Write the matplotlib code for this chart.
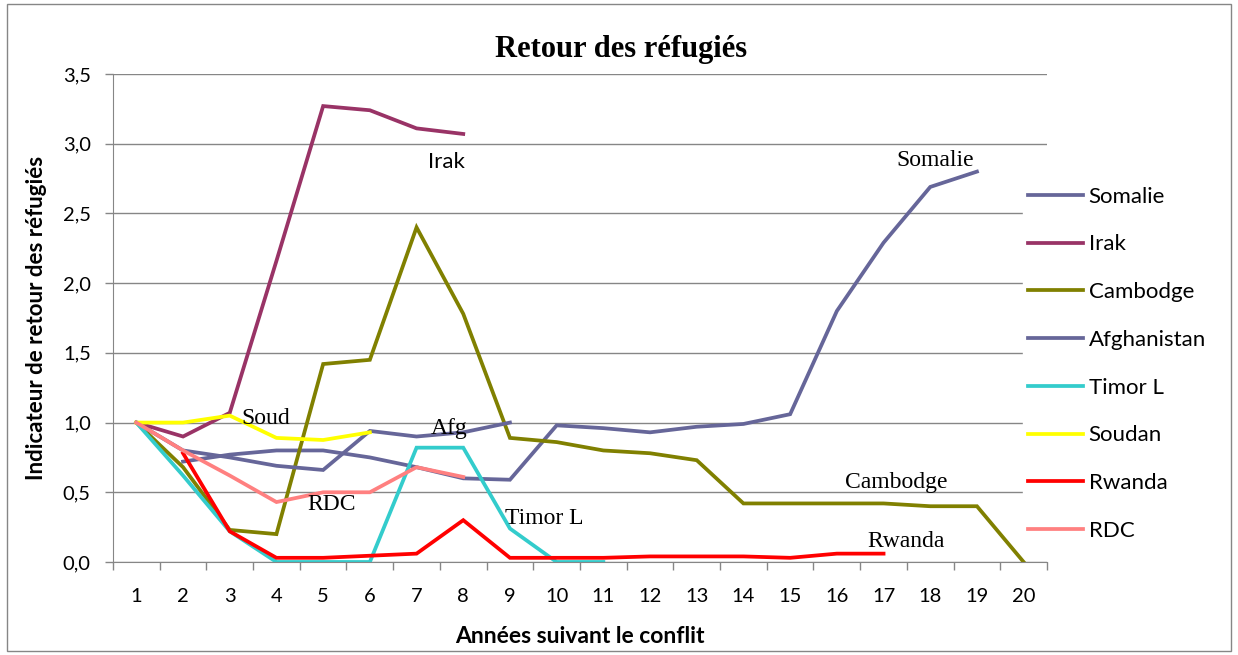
import numpy as np
import matplotlib
matplotlib.use('Agg')
import matplotlib.pyplot as plt
from matplotlib.patches import Rectangle

nan = np.nan

# annees suivant le conflit
years = list(range(1, 21))

somalie = [nan, 0.72, 0.77, 0.80, 0.80, 0.75, 0.68, 0.60, 0.59, 0.98,
           0.96, 0.93, 0.97, 0.99, 1.06, 1.80, 2.29, 2.69, 2.80]
irak = [1.0, 0.90, 1.07, 2.16, 3.27, 3.24, 3.11, 3.07]
cambodge = [1.0, 0.68, 0.23, 0.20, 1.42, 1.45, 2.40, 1.78, 0.89, 0.86,
            0.80, 0.78, 0.73, 0.42, 0.42, 0.42, 0.42, 0.40, 0.40, 0.0]
afghanistan = [1.0, 0.80, 0.75, 0.69, 0.66, 0.94, 0.90, 0.93, 1.00]
timor = [1.0, 0.62, 0.22, 0.0, 0.0, 0.0, 0.82, 0.82, 0.24, 0.0, 0.0]
soudan = [1.0, 1.0, 1.05, 0.89, 0.875, 0.93]
rwanda = [nan, 0.78, 0.22, 0.03, 0.03, 0.045, 0.06, 0.30, 0.03, 0.03,
          0.03, 0.04, 0.04, 0.04, 0.03, 0.06, 0.06]
rdc = [1.0, 0.80, 0.62, 0.43, 0.50, 0.50, 0.68, 0.61]

series = [
    ('Somalie', somalie, '#666699'),
    ('Irak', irak, '#993366'),
    ('Cambodge', cambodge, '#808000'),
    ('Afghanistan', afghanistan, '#666699'),
    ('Timor L', timor, '#33CCCC'),
    ('Soudan', soudan, '#FFFF00'),
    ('Rwanda', rwanda, '#FF0000'),
    ('RDC', rdc, '#FF8080'),
]

# etiquettes posees sur le graphique (texte, x, y)
notes_serif = [('Soud', 3.78, 1.03), ('Afg', 7.69, 0.96), ('RDC', 5.19, 0.41),
               ('Timor L', 9.73, 0.31), ('Somalie', 18.1, 2.88),
               ('Cambodge', 17.27, 0.57), ('Rwanda', 17.48, 0.15)]
note_irak = ('Irak', 7.63, 2.87)

grey = '#868686'
sans = ['Lato', 'DejaVu Sans']
serif = ['Liberation Serif', 'DejaVu Serif']

fig = plt.figure(figsize=(12.38, 6.55), dpi=100)
ax = fig.add_axes([113 / 1238, 93 / 655, 934 / 1238, 488 / 655])

for name, vals, color in series:
    x = years[:len(vals)]
    ax.plot(x, vals, color=color, lw=2.7, label=name, solid_joinstyle='miter')

for txt, x, y in notes_serif:
    ax.text(x, y, txt, ha='center', va='center', fontsize=17, family=serif)
ax.text(note_irak[1], note_irak[2], note_irak[0], ha='center', va='center',
        fontsize=16, family=sans)

ax.set_xlim(0.5, 20.5)
ax.set_ylim(0, 3.5)
ax.set_yticks(np.arange(0, 3.51, 0.5))
ax.set_yticklabels([f'{v:.1f}'.replace('.', ',') for v in np.arange(0, 3.51, 0.5)],
                   fontsize=14.5, family=sans)
ax.set_xticks(years)
ax.set_xticklabels([str(y) for y in years], fontsize=14.5, family=sans)
ax.set_xticks(np.arange(0.5, 20.6, 1), minor=True)
ax.tick_params(axis='x', which='major', length=0, pad=19)
ax.tick_params(axis='x', which='minor', length=6, color=grey, width=1)
ax.tick_params(axis='y', length=6, color=grey, width=1, pad=10)
ax.yaxis.grid(True, color=grey, lw=1)
ax.set_axisbelow(True)
for s in ['top', 'right']:
    ax.spines[s].set_visible(False)
for s in ['left', 'bottom']:
    ax.spines[s].set_color(grey)

ax.set_xlabel('Années suivant le conflit', fontsize=16.5, fontweight='bold',
              family=sans, labelpad=15)
ax.set_ylabel('Indicateur de retour des réfugiés', fontsize=16,
              fontweight='bold', family=sans, labelpad=11)
fig.text(621 / 1238, 1 - 50 / 655, 'Retour des réfugiés', ha='center',
         va='center', fontsize=22, fontweight='bold', family=serif)

leg = ax.legend(loc='upper left', bbox_to_anchor=(1012 / 1238, 1 - 171 / 655),
                bbox_transform=fig.transFigure, frameon=True, fancybox=False,
                edgecolor='white', facecolor='white', framealpha=1,
                prop={'family': sans, 'size': 16}, handlelength=2.48,
                handletextpad=0.27, labelspacing=1.25, borderpad=0.2)

fig.patches.append(Rectangle((7 / 1238, 4 / 655), 1224 / 1238, 647 / 655,
                             transform=fig.transFigure, fill=False,
                             edgecolor=grey, lw=1))

fig.savefig('out.png', dpi=100)
